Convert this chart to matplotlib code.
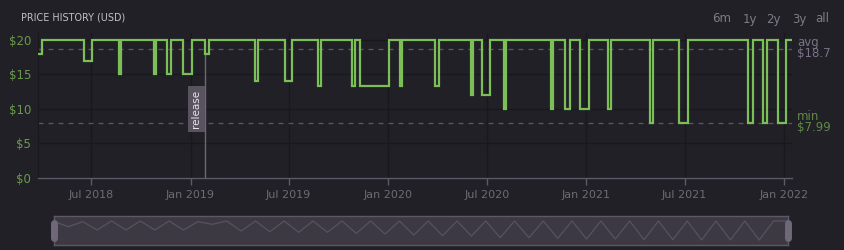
import matplotlib
matplotlib.use("Agg")
import matplotlib.pyplot as plt
import matplotlib.dates as mdates
import numpy as np
import pandas as pd

# ---- data ----
change_dates = [
    "2018-03-28", "2018-04-02", "2018-06-19", "2018-07-03", "2018-08-22", "2018-08-26",
    "2018-10-26", "2018-10-30", "2018-11-19", "2018-11-26", "2018-12-19", "2019-01-03",
    "2019-01-27", "2019-02-04", "2019-04-30", "2019-05-05", "2019-06-24", "2019-07-08",
    "2019-08-25", "2019-08-29", "2019-10-27", "2019-11-01", "2019-11-09", "2020-01-03",
    "2020-01-22", "2020-01-27", "2020-03-27", "2020-04-04", "2020-06-02", "2020-06-05",
    "2020-06-22", "2020-07-07", "2020-08-02", "2020-08-06", "2020-10-27", "2020-11-01",
    "2020-11-23", "2020-12-01", "2020-12-20", "2021-01-05", "2021-02-10", "2021-02-16",
    "2021-04-28", "2021-05-04", "2021-06-21", "2021-07-08", "2021-10-27", "2021-11-05",
    "2021-11-22", "2021-11-30", "2021-12-21", "2022-01-04", "2022-01-13",
]
prices = [
    17.99, 19.99, 16.99, 19.99, 14.99, 19.99,
    14.99, 19.99, 14.99, 19.99, 14.99, 19.99,
    17.99, 19.99, 13.99, 19.99, 13.99, 19.99,
    13.39, 19.99, 13.39, 19.99, 13.39, 19.99,
    13.39, 19.99, 13.39, 19.99, 11.99, 19.99,
    11.99, 19.99, 9.99, 19.99, 9.99, 19.99,
    9.99, 19.99, 9.99, 19.99, 9.99, 19.99,
    7.99, 19.99, 7.99, 19.99, 7.99, 19.99,
    7.99, 19.99, 7.99, 19.99, 19.99,
]
avg_price = 18.7
min_price = 7.99
release_date = "2019-01-28"
release_price = 17.99
y_ticks = [0, 5, 10, 15, 20]
y_tick_labels = ["$0", "$5", "$10", "$15", "$20"]
range_buttons = ["6m", "1y", "2y", "3y", "all"]
nav_values = [70, 55, 70, 45, 72, 45, 72, 45, 72, 45, 70, 62, 72, 42, 72, 40,
              72, 38, 72, 38, 72, 35, 72, 33, 72, 30, 72, 28, 72, 27, 72, 22,
              72, 22, 72, 20, 72, 18, 72, 18, 72, 16, 72, 16, 72, 15, 72, 15,
              72, 15, 72, 72]

# ---- style ----
BG = "#212026"
GRID = "#19181d"
AXIS = "#5d5966"
GREEN = "#7cbf58"
XLAB = "#6e6b75"
YLAB = "#6a9a4a"

dates = pd.to_datetime(change_dates)
W, H = 845, 250
fig = plt.figure(figsize=(W / 100, H / 100), dpi=100, facecolor=BG)

ax = fig.add_axes([38.3 / W, 1 - 178 / H, (792.3 - 38.3) / W, (178 - 33) / H])
ax.set_facecolor(BG)
ax.set_xlim(pd.Timestamp("2018-03-26"), pd.Timestamp("2022-01-16"))
ax.set_ylim(0, 21)

ax.xaxis.set_major_locator(mdates.MonthLocator(bymonth=[1, 7]))
ax.xaxis.set_major_formatter(mdates.DateFormatter("%b %Y"))
ax.set_yticks(y_ticks)
ax.set_yticklabels(y_tick_labels)
ax.grid(True, color=GRID, lw=1.0)
ax.set_axisbelow(True)
for s in ["top", "right"]:
    ax.spines[s].set_visible(False)
ax.spines["left"].set_color(GRID)
ax.spines["bottom"].set_color(AXIS)
ax.spines["bottom"].set_linewidth(1.0)
ax.tick_params(axis="x", colors=AXIS, length=5, width=1, labelcolor=XLAB,
               labelsize=8, pad=4)
ax.tick_params(axis="y", length=0, labelcolor=YLAB, labelsize=8.5, pad=5)

# avg / min dashed lines
ax.axhline(avg_price, color="#5a5862", lw=0.9, ls=(0, (4, 4)), zorder=1)
ax.axhline(min_price, color="#5a5862", lw=0.9, ls=(0, (4, 4)), zorder=1)

# release marker
rd = pd.Timestamp(release_date)
ax.vlines(rd, 0, release_price, color="#6c6874", lw=1.0, zorder=2)
ax.annotate("release", xy=(rd, 10), xytext=(-6.3, 0), textcoords="offset points",
            rotation=90, ha="center", va="center", color="#e6e3ea", fontsize=7.5,
            bbox=dict(boxstyle="square,pad=0.35", fc="#58535f", ec="none"), zorder=3)

# price line
ax.step(dates, prices, where="post", color=GREEN, lw=1.6, zorder=4,
        solid_joinstyle="miter")

# side labels
tr = ax.get_yaxis_transform()
for val, top, bottom, col in [(avg_price, "avg", "$18.7", "#7a7288"),
                              (min_price, "min", "$7.99", "#5e8a46")]:
    ax.annotate(top, xy=(1.0, val), xycoords=tr, xytext=(3.3, 4.8),
                textcoords="offset points", color=col, fontsize=8.5,
                ha="left", va="center", annotation_clip=False)
    ax.annotate(bottom, xy=(1.0, val), xycoords=tr, xytext=(3.3, -3.6),
                textcoords="offset points", color=col, fontsize=8.5,
                ha="left", va="center", annotation_clip=False)

# title and range buttons
fig.text(21 / W, 1 - 18 / H, "PRICE HISTORY (USD)", color="#c2c1c8", fontsize=6.9,
         ha="left", va="center", fontweight="medium")
btn_x = [722, 749.5, 773.5, 799, 822.5]
for bx, lab in zip(btn_x, range_buttons):
    fig.text(bx / W, 1 - 19 / H, lab, color="#7f7b88", fontsize=8.5,
             ha="center", va="center")

# navigator
nav = fig.add_axes([54 / W, 1 - 245 / H, (788 - 54) / W, 29 / H])
nav.set_facecolor("#3d3943")
nav.plot(nav_values, color="#57525f", lw=0.9)
nav.set_xlim(0, len(nav_values) - 1)
nav.set_ylim(0, 87)
nav.set_xticks([])
nav.set_yticks([])
for s in nav.spines.values():
    s.set_color("#5c5866")
    s.set_linewidth(1.0)
for hx in [0, 1]:
    nav.plot([hx, hx], [0.25, 0.75], transform=nav.transAxes, color="#6e6878",
             lw=5, solid_capstyle="round", clip_on=False, zorder=5)

fig.savefig("out.png", dpi=100, facecolor=BG)
